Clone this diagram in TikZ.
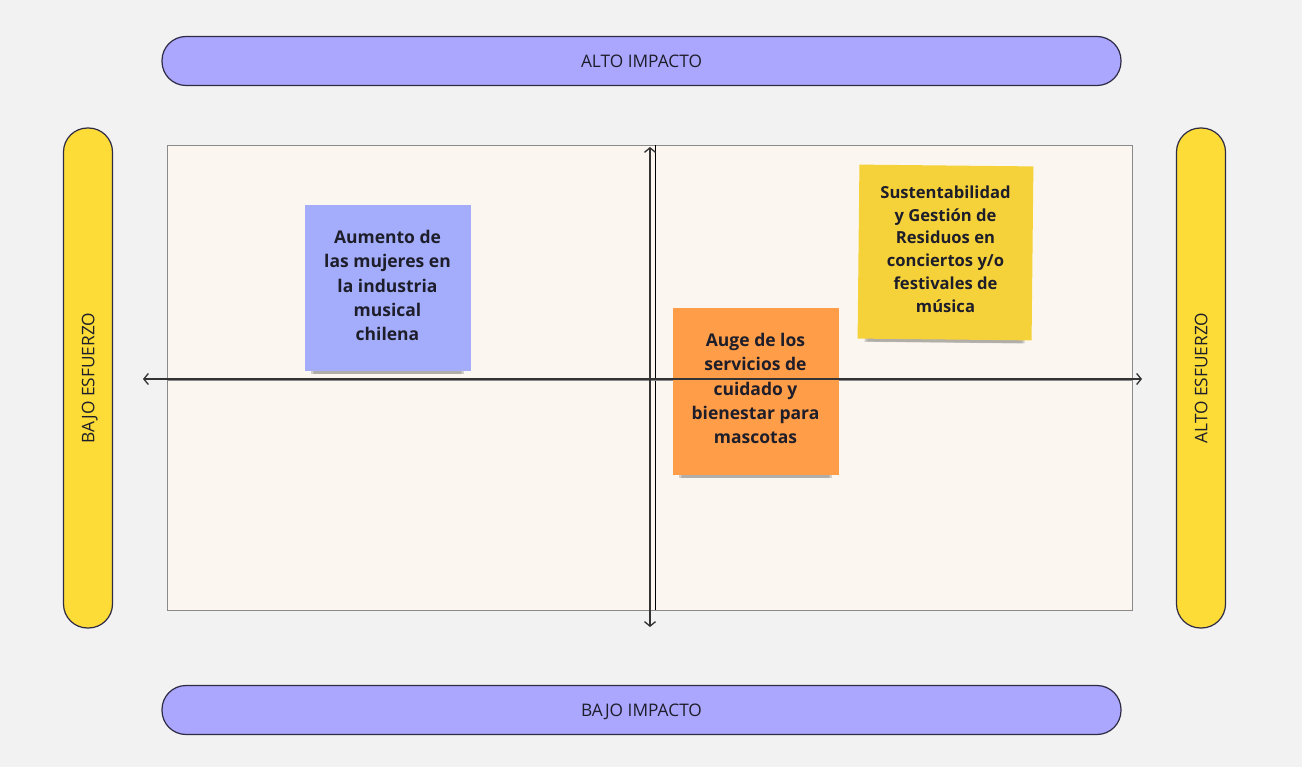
\documentclass[tikz,border=0pt]{standalone}
\usepackage{fontspec}
\setmainfont{Open Sans}
\usetikzlibrary{arrows.meta,shadows}
\definecolor{bggray}{HTML}{F2F2F2}
\definecolor{boxfill}{HTML}{FBF7F0}
\definecolor{boxline}{HTML}{8A8A8A}
\definecolor{pillpurple}{HTML}{ABA6FE}
\definecolor{pillyellow}{HTML}{FDDC38}
\definecolor{pillline}{HTML}{2E2B45}
\definecolor{noteblue}{HTML}{A4ADFC}
\definecolor{noteorange}{HTML}{FF9D48}
\definecolor{noteyellow}{HTML}{F5D13A}
\definecolor{notetext}{HTML}{1E1E2A}
\definecolor{axisline}{HTML}{333333}
\begin{document}
\begin{tikzpicture}[x=1pt,y=-1pt,
  pill/.style={draw=pillline,line width=1.2pt,rounded corners=24pt,minimum height=49pt,inner sep=0pt,text depth=0pt,text=notetext,font=\fontsize{17.3}{20}\selectfont},
  sticky/.style={minimum width=166pt,minimum height=166pt,inner sep=0pt,
    general shadow={shadow xshift=0pt,shadow yshift=-15pt,shadow scale=0.88,fill=black,opacity=0.06},
    general shadow={shadow xshift=0pt,shadow yshift=-13pt,shadow scale=0.9,fill=black,opacity=0.1},
    general shadow={shadow xshift=0pt,shadow yshift=-11pt,shadow scale=0.92,fill=black,opacity=0.16}},
  notelabel/.style={align=center,inner sep=0pt,text=notetext,font=\fontsize{17.5}{24.3}\selectfont\bfseries},
  axis/.style={{Straight Barb[length=4.5pt,width=11pt]}-{Straight Barb[length=4.5pt,width=11pt]},line width=1.3pt,draw=axisline}]
\fill[bggray] (0,0) rectangle (1302,767);
\useasboundingbox (0,0) rectangle (1302,767);
% the matrix
\draw[fill=boxfill,draw=boxline,line width=0.8pt] (167,145) rectangle (1132,610);
\draw[black,line width=0.9pt] (655,145) -- (655,610);
\draw[boxline,line width=0.8pt] (167,380) -- (1132,380);
% impacto
\node[pill,fill=pillpurple,minimum width=959pt] (alto) at (641.5,61) {ALTO IMPACTO};
\node[pill,fill=pillpurple,minimum width=959pt] (bajo) at (641.5,710) {BAJO IMPACTO};
% esfuerzo
\node[pill,fill=pillyellow,minimum width=500pt,rotate=90] (bajoesf) at (88,378) {BAJO ESFUERZO};
\node[pill,fill=pillyellow,minimum width=500pt,rotate=90] (altoesf) at (1201,378) {ALTO ESFUERZO};
% stickies
\node[sticky,fill=noteblue] (mujeres) at (387.5,288) {};
\node[notelabel] (mujerestxt) at ([yshift=2.5pt]mujeres.center) {Aumento de\\las mujeres en\\la industria\\musical\\chilena};
\node[sticky,fill=noteorange] (mascotas) at (755.5,391.5) {};
\node[notelabel] (mascotastxt) at ([yshift=3pt]mascotas.center) {Auge de los\\servicios de\\cuidado y\\bienestar para\\mascotas};
\node[sticky,fill=noteyellow,minimum width=174pt,minimum height=174pt,rotate=-0.6] (residuos) at (945.5,252.5) {};
\node[notelabel,font=\fontsize{16.6}{22.8}\selectfont\bfseries] (residuostxt) at ([yshift=3.5pt]residuos.center) {Sustentabilidad\\y Gestión de\\Residuos en\\conciertos y/o\\festivales de\\música};
% axes
\coordinate (west) at (143,379);
\coordinate (east) at (1142,379);
\coordinate (north) at (650,147);
\coordinate (south) at (650,627);
\draw[axis] (west) -- (east);
\draw[axis] (north) -- (south);
\end{tikzpicture}
\end{document}
